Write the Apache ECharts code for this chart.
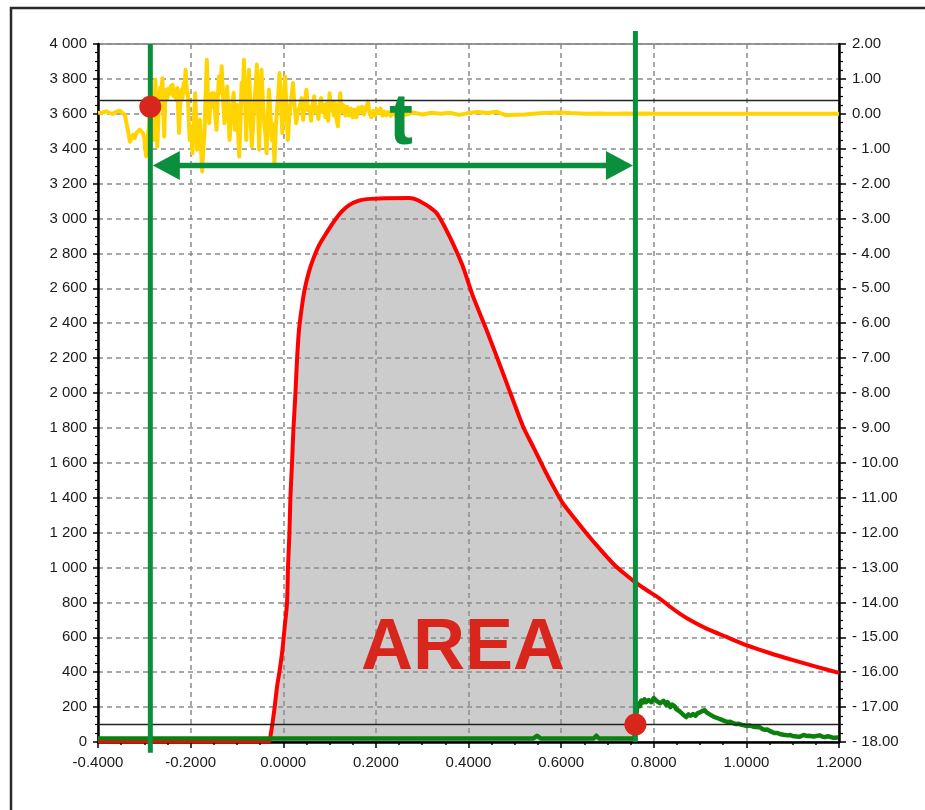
<!DOCTYPE html>
<html>
<head>
<meta charset="utf-8">
<script src="https://cdn.jsdelivr.net/npm/echarts@6/dist/echarts.min.js"></script>
<style>
  html, body { margin: 0; padding: 0; background: #ffffff; }
  #chart { width: 925px; height: 810px; }
</style>
</head>
<body>
<div id="chart"></div>
<script>
// ---- axis ranges ----
const timeRange = { min: -0.4, max: 1.2, step: 0.2 };
const leftRange = { min: 0, max: 4000, step: 200 };
const rightRange = { min: -18, max: 2, step: 1 };

// ---- main curve (left axis) : [time, value] ----
const mainCurve = [
  [-0.400, 5], [-0.200, 5], [-0.030, 5], [-0.0277, 33], [-0.0234, 105], [-0.0185, 201],
  [-0.0135, 315], [-0.0077, 411], [-0.0019, 526], [0.0031, 660], [0.0081, 794],
  [0.0103, 1004], [0.0133, 1195], [0.0155, 1405], [0.0189, 1597], [0.0219, 1788],
  [0.0263, 1998], [0.0297, 2189], [0.034, 2361], [0.040, 2490], [0.046, 2591],
  [0.055, 2690], [0.064, 2763], [0.078, 2850], [0.093, 2916], [0.110, 2985],
  [0.126, 3040], [0.143, 3078], [0.160, 3100], [0.180, 3111], [0.220, 3116],
  [0.273, 3117], [0.290, 3105], [0.302, 3088], [0.316, 3065], [0.331, 3031],
  [0.345, 2970], [0.359, 2897], [0.374, 2812], [0.388, 2724], [0.410, 2552],
  [0.439, 2361], [0.4745, 2113], [0.496, 1960], [0.518, 1807], [0.540, 1690],
  [0.561, 1577], [0.582, 1470], [0.604, 1367], [0.630, 1278], [0.655, 1195],
  [0.684, 1105], [0.712, 1023], [0.735, 968], [0.759, 918], [0.786, 868],
  [0.813, 822], [0.834, 778], [0.856, 736], [0.884, 690], [0.914, 650],
  [0.957, 602], [1.000, 555], [1.050, 510], [1.101, 469], [1.150, 432], [1.200, 396]
];

// ---- secondary curve (left axis) ----
const secondCurve = [
  [-0.400, 20], [0.540, 20], [0.548, 36], [0.556, 20], [0.670, 20], [0.676, 36],
  [0.682, 20], [0.758, 20], [0.764, 200], [0.767, 222], [0.770, 205], [0.773, 238],
  [0.776, 226], [0.780, 245], [0.783, 228], [0.786, 218], [0.789, 240], [0.792, 250],
  [0.795, 228], [0.797, 236], [0.800, 252], [0.802, 258], [0.806, 236], [0.810, 244],
  [0.814, 222], [0.818, 215], [0.821, 236], [0.823, 232], [0.827, 212], [0.830, 228],
  [0.833, 214], [0.836, 200], [0.840, 214], [0.845, 206], [0.848, 190], [0.852, 196],
  [0.856, 175], [0.860, 170], [0.863, 158], [0.867, 150], [0.870, 143], [0.875, 158],
  [0.880, 150], [0.885, 160], [0.890, 150], [0.895, 165], [0.900, 170], [0.905, 178],
  [0.910, 182], [0.914, 170], [0.917, 165], [0.921, 158], [0.925, 150], [0.929, 145],
  [0.933, 142], [0.938, 136], [0.942, 130], [0.946, 128], [0.950, 125], [0.955, 118],
  [0.960, 115], [0.965, 116], [0.970, 110], [0.974, 104], [0.978, 103], [0.984, 104],
  [0.990, 98], [0.995, 96], [1.000, 92], [1.008, 94], [1.015, 88], [1.022, 86],
  [1.029, 84], [1.035, 74], [1.040, 70], [1.045, 72], [1.050, 64], [1.055, 58],
  [1.060, 52], [1.066, 52], [1.072, 46], [1.080, 42], [1.090, 38], [1.095, 40],
  [1.100, 34], [1.108, 32], [1.115, 30], [1.120, 36], [1.125, 40], [1.130, 34],
  [1.135, 36], [1.145, 32], [1.158, 38], [1.165, 30], [1.170, 28], [1.175, 33],
  [1.180, 30], [1.185, 26], [1.190, 24], [1.198, 26]
];

// ---- trigger signal (right axis) ----
const triggerSignal = [
  [-0.400, 0.02], [-0.390, 0.04], [-0.382, 0.07], [-0.375, 0.02], [-0.368, 0.00],
  [-0.360, 0.06], [-0.353, 0.09], [-0.347, 0.02], [-0.342, -0.03], [-0.338, -0.30],
  [-0.335, -0.50], [-0.331, -0.80], [-0.328, -0.75], [-0.324, -0.60], [-0.321, -0.70],
  [-0.317, -0.55], [-0.314, -0.60], [-0.310, -0.45], [-0.306, -0.41], [-0.303, -0.55],
  [-0.300, -0.70], [-0.298, -1.00], [-0.296, -1.22], [-0.293, -0.70],
  [-0.2900, -0.36], [-0.2875, 0.10], [-0.2850, 0.21], [-0.2825, -0.40], [-0.2800, -0.75],
  [-0.2775, 0.30], [-0.2760, 0.98], [-0.2740, 0.20], [-0.2720, -0.94], [-0.2700, -0.30],
  [-0.2680, 0.40], [-0.2655, 0.75], [-0.2635, 0.55], [-0.2610, 1.02], [-0.2590, 0.10],
  [-0.2570, -0.65], [-0.2550, 0.30], [-0.2525, 0.69], [-0.2500, 0.45], [-0.2475, 0.72],
  [-0.2450, 0.59], [-0.2425, 0.80], [-0.2400, 0.55], [-0.2390, 0.83], [-0.2365, 0.50],
  [-0.2340, 0.64], [-0.2315, 0.40], [-0.2290, 0.74], [-0.2270, 0.10], [-0.2250, -0.55],
  [-0.2230, 0.20], [-0.2200, 0.69], [-0.2175, 0.45], [-0.2150, 0.88], [-0.2130, 0.60],
  [-0.2110, 1.26], [-0.2085, 0.70], [-0.2060, 0.59], [-0.2040, -0.20], [-0.2020, -0.75],
  [-0.1990, -0.40], [-0.1960, -1.13], [-0.1935, -0.30], [-0.1900, 0.59], [-0.1880, -0.20],
  [-0.1860, -1.03], [-0.1830, -0.50], [-0.1800, -0.17], [-0.1780, -0.90], [-0.1750, -1.65],
  [-0.1725, -1.00], [-0.1700, -0.55], [-0.1675, 0.60], [-0.1650, 1.55], [-0.1625, 0.40],
  [-0.1600, -0.27], [-0.1575, 0.30], [-0.1540, 0.59], [-0.1515, 0.20], [-0.1490, 0.59],
  [-0.1465, -0.10], [-0.1440, -0.46], [-0.1415, 0.40], [-0.1390, 1.07], [-0.1360, 0.60],
  [-0.1330, 1.36], [-0.1300, 0.50], [-0.1270, -0.27], [-0.1240, 0.30], [-0.1210, 0.78],
  [-0.1185, 0.10], [-0.1160, -0.75], [-0.1130, -0.20], [-0.1100, 0.31], [-0.1070, 0.60],
  [-0.1040, -0.46], [-0.1020, 0.00], [-0.1000, 0.26], [-0.0975, -0.50], [-0.0950, -1.22],
  [-0.0925, -0.30], [-0.0900, 0.88], [-0.0875, 0.40], [-0.0850, 1.55], [-0.0825, 0.50],
  [-0.0800, -0.75], [-0.0770, 0.30], [-0.0740, 1.26], [-0.0710, 0.20], [-0.0680, -0.94],
  [-0.0650, -0.30], [-0.0620, 0.40], [-0.0595, 0.80], [-0.0570, 1.41], [-0.0545, 0.20],
  [-0.0520, -1.03], [-0.0495, 0.30], [-0.0470, 1.26], [-0.0440, 0.40], [-0.0410, -0.27],
  [-0.0385, -0.60], [-0.0360, -1.13], [-0.0335, -0.20], [-0.0310, 0.69], [-0.0280, 0.10],
  [-0.0250, -0.75], [-0.0220, -0.30], [-0.0190, -1.41], [-0.0160, -0.40], [-0.0130, 0.21],
  [-0.0105, 0.60], [-0.0080, 1.17], [-0.0050, 0.30], [-0.0020, -0.55], [0.0010, 0.40],
  [0.0040, 1.07], [0.0070, 0.10], [0.0100, -0.75], [0.0125, -0.20], [0.0150, 0.21],
  [0.0180, 0.50], [0.0210, 0.88], [0.0245, 0.20], [0.0280, -0.27], [0.0320, 0.10],
  [0.0360, 0.21], [0.0395, 0.45], [0.0430, -0.17], [0.0465, 0.30], [0.0500, 0.69],
  [0.0535, 0.10], [0.0570, 0.21],
  [0.060, -0.20], [0.064, 0.35], [0.067, 0.50], [0.070, 0.05], [0.073, 0.20],
  [0.076, -0.15], [0.079, 0.30], [0.082, 0.45], [0.085, 0.05], [0.088, 0.25],
  [0.091, -0.10], [0.094, 0.30], [0.097, -0.20], [0.100, 0.59], [0.103, 0.10],
  [0.106, 0.35], [0.109, -0.05], [0.112, 0.30], [0.115, -0.15], [0.118, -0.36],
  [0.121, 0.30], [0.123, 0.59], [0.126, 0.05], [0.130, 0.25], [0.134, -0.05],
  [0.138, 0.20], [0.142, -0.05], [0.146, 0.15], [0.150, -0.10], [0.154, 0.12],
  [0.158, -0.10], [0.162, 0.18], [0.166, 0.05], [0.170, 0.20], [0.174, -0.02],
  [0.178, 0.15], [0.183, 0.35], [0.186, 0.05], [0.190, -0.10], [0.194, 0.08],
  [0.198, -0.05], [0.202, 0.12], [0.206, 0.02], [0.210, 0.15], [0.214, -0.05],
  [0.218, 0.06], [0.222, -0.04], [0.226, 0.05], [0.232, -0.06], [0.238, 0.03],
  [0.244, -0.05], [0.250, 0.05], [0.265, -0.03], [0.280, 0.04], [0.300, -0.02],
  [0.320, 0.03], [0.340, 0.00], [0.360, 0.03], [0.380, -0.03], [0.400, 0.02],
  [0.420, 0.05], [0.440, 0.02], [0.460, 0.06], [0.480, -0.04], [0.500, -0.03],
  [0.520, -0.02], [0.540, 0.00], [0.560, 0.02], [0.580, 0.03], [0.600, 0.04],
  [0.620, 0.02], [0.640, 0.01], [0.660, 0.00], [0.680, 0.01], [0.700, 0.00],
  [0.720, 0.00], [0.740, 0.01], [0.760, 0.00], [0.780, 0.01], [0.800, 0.00],
  [0.850, 0.00], [0.900, 0.00], [0.950, 0.00], [1.000, 0.00], [1.100, 0.00], [1.200, 0.00]
];

// ---- levels, cursors and markers ----
const upperLevel = 0.38;          // right axis
const lowerLevel = 100;           // left axis
const cursorStart = -0.287;
const cursorEnd = 0.7604;
const cursorLines = [             // [time, bottom, top] on left axis
  [cursorStart, -61, 4000],
  [cursorEnd, 0, 4075]
];
const spanLevel = 3304;           // left axis
const crossingPoints = [[cursorStart, 3640], [cursorEnd, 100]];

const GREEN = '#0a8f3c';
const RED_TXT = '#d9261c';
const LABEL_FONT = '"Liberation Sans", Arial, sans-serif';

function fmtTime(v) {
  if (Math.abs(v) < 1e-9) v = 0;
  return v.toFixed(4);
}
function fmtLeft(v) {
  v = Math.round(v);
  if (v >= 1000) {
    const r = v % 1000;
    return Math.floor(v / 1000) + ' ' + String(r).padStart(3, '0');
  }
  return String(v);
}
function fmtRight(v) {
  if (Math.abs(v) < 1e-9) return '0.00';
  if (v < 0) return '- ' + Math.abs(v).toFixed(2);
  return v.toFixed(2);
}

const areaData = mainCurve.filter(p => p[0] <= cursorEnd);

const chart = echarts.init(document.getElementById('chart'), null, { renderer: 'canvas' });

const dashed = { color: '#8c8c8c', width: 1.5, type: [5, 4] };

chart.setOption({
  animation: false,
  backgroundColor: '#ffffff',
  grid: { left: 98, right: 86, top: 44, bottom: 68, show: true, borderColor: '#333', borderWidth: 1 },
  xAxis: {
    type: 'value', min: timeRange.min, max: timeRange.max, interval: timeRange.step,
    axisLine: { show: true, onZero: false, lineStyle: { color: '#000', width: 2.5 } },
    axisTick: { show: true, length: 6, lineStyle: { color: '#000', width: 1.5 } },
    minorTick: { show: true, splitNumber: 4, length: 3, lineStyle: { color: '#000', width: 1.5 } },
    axisLabel: { formatter: fmtTime, fontSize: 15, color: '#1a1a1a', margin: 13, fontFamily: LABEL_FONT },
    splitLine: { show: true, lineStyle: dashed }
  },
  yAxis: [
    {
      type: 'value', position: 'left', min: leftRange.min, max: leftRange.max, interval: leftRange.step,
      axisLine: { show: true, onZero: false, lineStyle: { color: '#000', width: 2.5 } },
      axisTick: { show: true, length: 5, lineStyle: { color: '#000', width: 1.5 } },
      minorTick: { show: true, splitNumber: 4, length: 3, lineStyle: { color: '#000', width: 1.2 } },
      axisLabel: { formatter: fmtLeft, fontSize: 15, color: '#1a1a1a', margin: 11, fontFamily: LABEL_FONT },
      splitLine: { show: true, lineStyle: dashed }
    },
    {
      type: 'value', position: 'right', min: rightRange.min, max: rightRange.max, interval: rightRange.step,
      axisLine: { show: true, onZero: false, lineStyle: { color: '#000', width: 2.5 } },
      axisTick: { show: true, length: 7, lineStyle: { color: '#000', width: 1.5 } },
      minorTick: { show: true, splitNumber: 4, length: 4, lineStyle: { color: '#000', width: 1.2 } },
      axisLabel: { formatter: fmtRight, fontSize: 15, color: '#1a1a1a', margin: 13, fontFamily: LABEL_FONT },
      splitLine: { show: false }
    }
  ],
  series: [
    {
      name: 'area', type: 'line', xAxisIndex: 0, yAxisIndex: 0, z: -1,
      data: areaData, symbol: 'none', silent: true, smooth: 0.25,
      lineStyle: { width: 0, opacity: 0 },
      areaStyle: { color: '#cccccc', opacity: 1, origin: 'start' }
    },
    {
      name: 'trigger', type: 'line', xAxisIndex: 0, yAxisIndex: 1, z: 2,
      data: triggerSignal, symbol: 'none', silent: true,
      lineStyle: { color: '#ffd400', width: 4, join: 'round' }
    },
    {
      name: 'main', type: 'line', xAxisIndex: 0, yAxisIndex: 0, z: 3,
      data: mainCurve, symbol: 'none', silent: true, smooth: 0.25,
      lineStyle: { color: '#ff0000', width: 4, join: 'round' }
    },
    {
      name: 'second', type: 'line', xAxisIndex: 0, yAxisIndex: 0, z: 4,
      data: secondCurve, symbol: 'none', silent: true,
      lineStyle: { color: '#0b800f', width: 4.5, join: 'round' }
    },
    {
      name: 'upper level', type: 'line', xAxisIndex: 0, yAxisIndex: 1, z: 4,
      data: [], symbol: 'none', silent: true,
      markLine: {
        silent: true, symbol: 'none', label: { show: false }, animation: false,
        lineStyle: { color: '#222', width: 1.3, type: 'solid' },
        data: [{ yAxis: upperLevel }]
      }
    },
    {
      name: 'lower level', type: 'line', xAxisIndex: 0, yAxisIndex: 0, z: 4,
      data: [], symbol: 'none', silent: true,
      markLine: {
        silent: true, symbol: 'none', label: { show: false }, animation: false,
        lineStyle: { color: '#222', width: 1.3, type: 'solid' },
        data: [{ yAxis: lowerLevel }]
      }
    },
    ...cursorLines.map((c, i) => ({
      name: 'cursor' + i, type: 'line', xAxisIndex: 0, yAxisIndex: 0, z: 5,
      clip: false, symbol: 'none', silent: true,
      data: [[c[0], c[1]], [c[0], c[2]]],
      lineStyle: { color: GREEN, width: 5, cap: 'butt' }
    })),
    {
      name: 'span', type: 'custom', xAxisIndex: 0, yAxisIndex: 0, z: 6, clip: false, silent: true,
      data: [[cursorStart, cursorEnd, spanLevel]],
      renderItem: function (params, api) {
        const a = api.coord([api.value(0), api.value(2)]);
        const b = api.coord([api.value(1), api.value(2)]);
        const half = 2.5, hl = 27, hw = 14.5;
        const x1 = a[0] + half, x2 = b[0] - half, y = a[1];
        return {
          type: 'group',
          children: [
            { type: 'line', shape: { x1: x1 + hl - 2, y1: y, x2: x2 - hl + 2, y2: y },
              style: { stroke: GREEN, lineWidth: 5.5 } },
            { type: 'polygon', shape: { points: [[x1, y], [x1 + hl, y - hw], [x1 + hl, y + hw]] },
              style: { fill: GREEN } },
            { type: 'polygon', shape: { points: [[x2, y], [x2 - hl, y - hw], [x2 - hl, y + hw]] },
              style: { fill: GREEN } }
          ]
        };
      }
    },
    {
      name: 'points', type: 'scatter', xAxisIndex: 0, yAxisIndex: 0, z: 7, clip: false, silent: true,
      data: crossingPoints, symbol: 'circle', symbolSize: 22,
      itemStyle: { color: RED_TXT, opacity: 1 }
    }
  ],
  graphic: [
    {
      type: 'rect', z: 0, silent: true,
      shape: { x: 11, y: 8, width: 1000, height: 900 },
      style: { fill: 'none', stroke: '#2a2a2a', lineWidth: 2.5 }
    },
    {
      type: 'text', z: 100, x: 401, y: 124, silent: true,
      style: { text: 't', fill: GREEN, font: 'bold 72px ' + LABEL_FONT, align: 'center', verticalAlign: 'middle' }
    },
    {
      type: 'text', z: 100, x: 463, y: 649, silent: true,
      style: { text: 'AREA', fill: RED_TXT, font: 'bold 72px ' + LABEL_FONT, align: 'center', verticalAlign: 'middle' }
    }
  ]
});
</script>
</body>
</html>
